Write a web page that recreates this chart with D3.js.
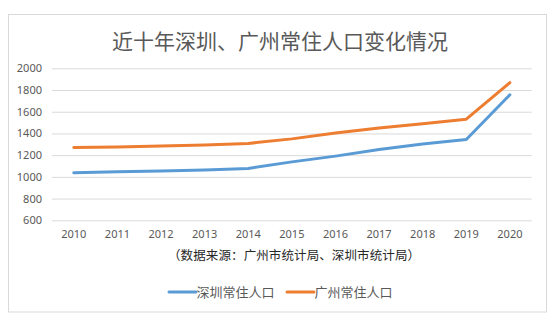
<!DOCTYPE html>
<html><head><meta charset="utf-8">
<script src="https://cdn.jsdelivr.net/npm/d3@7"></script>
<style>body{margin:0;background:#fff;}svg{display:block;}</style>
</head><body>
<script>
const years = ["2010","2011","2012","2013","2014","2015","2016","2017","2018","2019","2020"];
const shenzhen = [1037, 1047, 1055, 1063, 1078, 1138, 1191, 1253, 1303, 1344, 1756];
const guangzhou = [1270, 1275, 1284, 1293, 1308, 1350, 1404, 1450, 1490, 1531, 1868];
const yTicks = [600, 800, 1000, 1200, 1400, 1600, 1800, 2000];
const seriesNames = ["深圳常住人口", "广州常住人口"];
const colors = ["#5b9bd5", "#ed7d31"];
const titleText = "近十年深圳、广州常住人口变化情况";
const sourceText = "（数据来源：广州市统计局、深圳市统计局）";

const W = 558, H = 322;
const svg = d3.select("body").append("svg").attr("width", W).attr("height", H);
const font = "'Noto Sans CJK SC', 'Noto Sans', sans-serif";

svg.append("rect").attr("x", 8.5).attr("y", 14.5).attr("width", 538).attr("height", 297.5)
  .attr("fill", "#fff").attr("stroke", "#d9d9d9").attr("stroke-width", 1);

svg.append("text").attr("x", 280).attr("y", 48.5).attr("text-anchor", "middle")
  .attr("font-family", font).attr("font-size", 21).attr("fill", "#595959").text(titleText);

const x = d3.scaleBand().domain(years).range([52, 531.7]);
const y = d3.scaleLinear().domain([600, 2000]).range([220.3, 68.3]);

// gridlines
const yAxis = d3.axisLeft(y).tickValues(yTicks).tickSize(-(531.7 - 52)).tickPadding(10).tickFormat(d3.format("d"));
const gy = svg.append("g").attr("transform", "translate(52,0)").call(yAxis);
gy.select(".domain").remove();
gy.selectAll(".tick line").attr("stroke", "#d9d9d9").attr("stroke-width", 1);
gy.selectAll(".tick text").attr("font-family", "'Noto Sans', sans-serif").attr("font-size", 11).attr("fill", "#595959");

const xAxis = d3.axisBottom(x).tickSize(0).tickPadding(10);
const gx = svg.append("g").attr("transform", "translate(0,220.3)").call(xAxis);
gx.select(".domain").remove();
gx.selectAll(".tick text").attr("font-family", "'Noto Sans', sans-serif").attr("font-size", 11).attr("fill", "#595959");

const line = d3.line().x((d, i) => x(years[i]) + x.bandwidth() / 2).y(d => y(d));
[shenzhen, guangzhou].forEach((s, k) => {
  svg.append("path").datum(s).attr("d", line).attr("fill", "none")
    .attr("stroke", colors[k]).attr("stroke-width", 3).attr("stroke-linejoin", "round").attr("stroke-linecap", "round");
});

svg.append("text").attr("x", 168).attr("y", 259.5)
  .attr("font-family", font).attr("font-size", 12.5).attr("fill", "#262626")
  .attr("textLength", 252).attr("lengthAdjust", "spacing").text(sourceText);

// legend
const legX = [169, 287];
seriesNames.forEach((n, k) => {
  svg.append("line").attr("x1", legX[k]).attr("x2", legX[k] + 27).attr("y1", 292).attr("y2", 292)
    .attr("stroke", colors[k]).attr("stroke-width", 3).attr("stroke-linecap", "round");
  svg.append("text").attr("x", legX[k] + 27.5).attr("y", 296.5).attr("font-family", font)
    .attr("font-size", 13).attr("fill", "#595959").text(n);
});
</script>
</body></html>
